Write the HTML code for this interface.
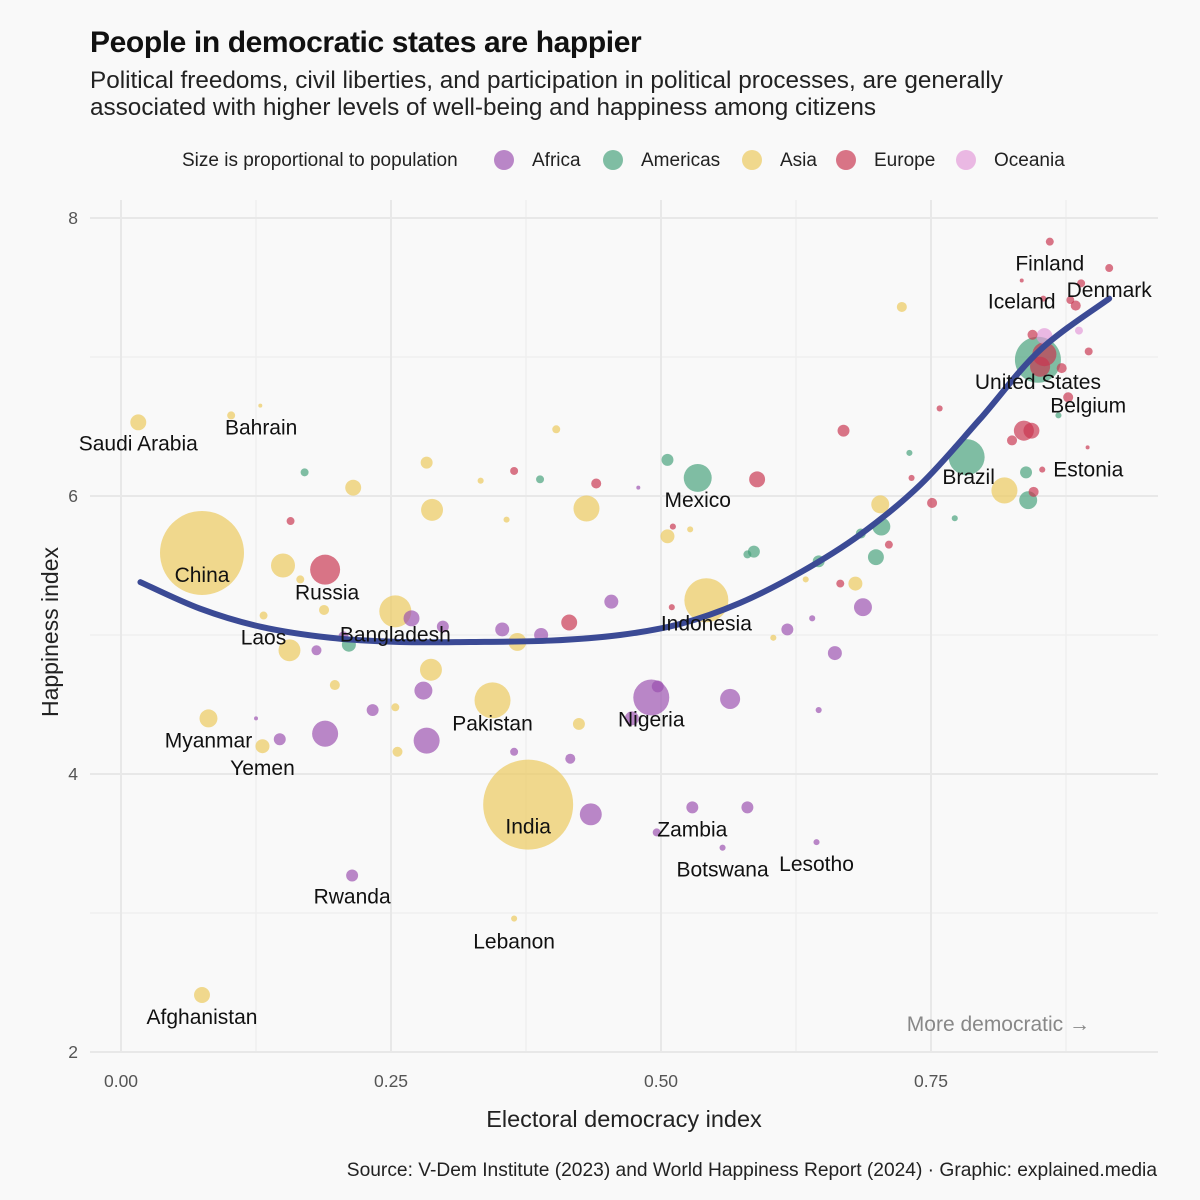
<!DOCTYPE html>
<html><head><meta charset="utf-8"><style>
body{margin:0;background:#f9f9f9;}
#wrap{position:relative;width:1200px;height:1200px;background:#f9f9f9;font-family:"Liberation Sans",sans-serif;}
.title{position:absolute;left:90px;top:26px;font-family:"Liberation Sans Narrow","Liberation Sans",sans-serif;font-weight:bold;font-size:30px;letter-spacing:-0.4px;color:#111;}
.sub{position:absolute;left:90px;top:67px;font-size:24.3px;line-height:27px;color:#222;white-space:nowrap;}
</style></head><body>
<div id="wrap">
<div class="title">People in democratic states are happier</div>
<div class="sub">Political freedoms, civil liberties, and participation in political processes, are generally<br>associated with higher levels of well-being and happiness among citizens</div>
<svg id="svg" width="1200" height="1200" style="position:absolute;left:0;top:0"></svg>
</div>
<script>
const xVals=[.075,.377,.016,.102,.129,.189,.156,.254,.081,.131,.075,.214,.364,.344,.491,.529,.557,.644,.534,.542,.783,.849,.860,.915,.834,.877,.853,
.283,.215,.288,.431,.150,.166,.188,.132,.287,.198,.367,.424,.256,.254,.333,.357,.403,.506,.527,.604,.634,.680,.703,.818,.723,
.233,.206,.269,.280,.283,.189,.147,.181,.298,.353,.389,.416,.364,.454,.435,.473,.497,.564,.580,.496,.617,.640,.661,.687,.646,.479,.125,
.170,.211,.388,.506,.586,.580,.646,.685,.704,.699,.730,.772,.840,.838,.868,
.157,.364,.440,.415,.589,.669,.666,.511,.510,.711,.732,.751,.758,.825,.836,.843,.844,.845,.855,.851,.871,.896,.884,.879,.889,.895,.854,
.855,.887];
const yVals=[5.59,3.78,6.53,6.58,6.65,5.47,4.89,5.17,4.40,4.20,2.41,3.27,2.96,4.53,4.55,3.76,3.47,3.51,6.13,5.25,6.28,6.98,7.83,7.64,7.55,6.71,6.19,
6.24,6.06,5.90,5.91,5.50,5.40,5.18,5.14,4.75,4.64,4.95,4.36,4.16,4.48,6.11,5.83,6.48,5.71,5.76,4.98,5.40,5.37,5.94,6.04,7.36,
4.46,4.99,5.12,4.60,4.24,4.29,4.25,4.89,5.06,5.04,5.00,4.11,4.16,5.24,3.71,4.40,4.63,4.54,3.76,3.58,5.04,5.12,4.87,5.20,4.46,6.06,4.40,
6.17,4.93,6.12,6.26,5.60,5.58,5.53,5.73,5.78,5.56,6.31,5.84,5.97,6.17,6.58,
5.82,6.18,6.09,5.09,6.12,6.47,5.37,5.78,5.20,5.65,6.13,5.95,6.63,6.40,6.47,6.47,7.16,6.03,7.02,6.93,6.92,7.04,7.37,7.41,7.53,6.35,7.42,
7.15,7.19];
const popVals=[1334,1530,48,12,3,170,91,194,61,37,48,27,7,245,245,27,7,7,148,366,245,400,12,12,3,19,7,
27,48,91,128,109,12,19,12,91,19,61,27,19,12,7,7,12,37,7,7,7,37,61,128,19,
27,19,48,61,128,128,27,19,27,37,37,19,12,37,91,37,27,76,27,12,27,7,37,61,7,3,3,
12,37,12,27,27,12,27,19,61,48,7,7,61,27,7,
12,12,19,48,48,27,12,7,7,12,7,19,7,19,76,48,19,19,109,76,19,12,19,12,12,3,7,
48,12];
const regionVals=[].concat(Array(27).fill('x'),Array(25).fill('Asia'),Array(27).fill('Africa'),Array(15).fill('Americas'),Array(27).fill('Europe'),Array(2).fill('Oceania'));
const namedRegions=['Asia','Asia','Asia','Asia','Asia','Europe','Asia','Asia','Asia','Asia','Asia','Africa','Asia','Asia','Africa','Africa','Africa','Africa','Americas','Asia','Americas','Americas','Europe','Europe','Europe','Europe','Europe'];
for(let i=0;i<27;i++)regionVals[i]=namedRegions[i];
const labels=['China','India','Saudi Arabia','Bahrain','','Russia','Laos','Bangladesh','Myanmar','Yemen','Afghanistan','Rwanda','Lebanon','Pakistan','Nigeria','Zambia','Botswana','Lesotho','Mexico','Indonesia','Brazil','United States','Finland','Denmark','Iceland','Belgium','Estonia'];
const labelDx=[0,0,0,30,0,2,-26,0,0,0,0,0,0,0,0,0,0,0,0,0,2,0,0,0,0,20,46];
const labelDy=[22,22,21,12,0,23,-13,23,22,22,22,21,23,23,22,22,22,22,22,23,20,22,22,22,21,8,0];
const trendX=[.018,.073,.129,.194,.258,.323,.398,.462,.518,.573,.629,.684,.740,.795,.851,.915];
const trendY=[5.38,5.19,5.06,4.98,4.95,4.95,4.96,5.00,5.08,5.23,5.45,5.72,6.08,6.55,7.05,7.42];
const xTicks=[0,0.25,0.5,0.75];const xTickLabels=['0.00','0.25','0.50','0.75'];
const yTicks=[2,4,6,8];
const legendRegions=['Africa','Americas','Asia','Europe','Oceania'];
const colors={Africa:'#9b4fb0',Americas:'#45a07a',Asia:'#ecc95a',Europe:'#c9354f',Oceania:'#e39ad8'};

const X=v=>121+v*1080, Y=v=>218+(8-v)*139, R=p=>1.15*Math.sqrt(p);
const NS='http://www.w3.org/2000/svg', svg=document.getElementById('svg');
function mk(t,a,p){const e=document.createElementNS(NS,t);for(const k in a)e.setAttribute(k,a[k]);(p||svg).appendChild(e);return e;}
for(let i=0;i<4;i++){const v=0.125+i*0.25;const g=mk('line',{x1:X(v),x2:X(v),y1:200,y2:1052,stroke:'#efefef','stroke-width':1.5});
}
for(const v of [3,5,7]){const g=mk('line',{x1:90,x2:1158,y1:Y(v),y2:Y(v),stroke:'#efefef','stroke-width':1.5});
}
xTicks.forEach((v,i)=>{const g=mk('line',{x1:X(v),x2:X(v),y1:200,y2:1052,stroke:'#e8e8e8','stroke-width':2});

const t=mk('text',{x:X(v),y:1087,'text-anchor':'middle','font-size':17.5,fill:'#555'});t.textContent=xTickLabels[i];
});
yTicks.forEach(v=>{const g=mk('line',{x1:90,x2:1158,y1:Y(v),y2:Y(v),stroke:'#e8e8e8','stroke-width':2});

const t=mk('text',{x:78,y:Y(v)+6,'text-anchor':'end','font-size':17.5,fill:'#555'});t.textContent=v;
});
const order=xVals.map((_,i)=>i).sort((a,b)=>popVals[b]-popVals[a]);
order.forEach(i=>{const c=mk('circle',{cx:X(xVals[i]),cy:Y(yVals[i]),r:R(popVals[i]),fill:colors[regionVals[i]],'fill-opacity':0.68});
});
// smooth trend (Catmull-Rom)
const P=trendX.map((v,i)=>[X(v),Y(trendY[i])]);
let d='M'+P[0][0]+' '+P[0][1];
for(let i=0;i<P.length-1;i++){const p0=P[Math.max(0,i-1)],p1=P[i],p2=P[i+1],p3=P[Math.min(P.length-1,i+2)];
d+='C'+(p1[0]+(p2[0]-p0[0])/6)+' '+(p1[1]+(p2[1]-p0[1])/6)+' '+(p2[0]-(p3[0]-p1[0])/6)+' '+(p2[1]-(p3[1]-p1[1])/6)+' '+p2[0]+' '+p2[1];}
const tp=mk('path',{d:d,fill:'none',stroke:'#3b4a95','stroke-width':6,'stroke-linecap':'round','stroke-linejoin':'round'});

labels.forEach((l,i)=>{if(!l)return;const t=mk('text',{x:X(xVals[i])+labelDx[i],y:Y(yVals[i])+labelDy[i]+7,'text-anchor':'middle','font-size':21,fill:'#111'});t.textContent=l;
});
let t=mk('text',{x:624,y:1127,'text-anchor':'middle','font-size':23.5,fill:'#222'});t.textContent='Electoral democracy index';

t=mk('text',{x:58,y:632,'text-anchor':'middle','font-size':23,fill:'#222',transform:'rotate(-90 58 632)'});t.textContent='Happiness index';

t=mk('text',{x:1090,y:1031,'text-anchor':'end','font-size':21,fill:'#888'});t.textContent='More democratic →';

t=mk('text',{x:1157,y:1176,'text-anchor':'end','font-size':19.2,fill:'#222'});t.textContent='Source: V-Dem Institute (2023) and World Happiness Report (2024) · Graphic: explained.media';

t=mk('text',{x:182,y:166,'font-size':19,fill:'#222'});t.textContent='Size is proportional to population';

const lx=[504,613,752,846,966];
legendRegions.forEach((r,i)=>{const c=mk('circle',{cx:lx[i],cy:160,r:10,fill:colors[r],'fill-opacity':0.68});

const tt=mk('text',{x:lx[i]+28,y:166,'font-size':19,fill:'#222'});tt.textContent=r;
});
</script>
</body></html>
